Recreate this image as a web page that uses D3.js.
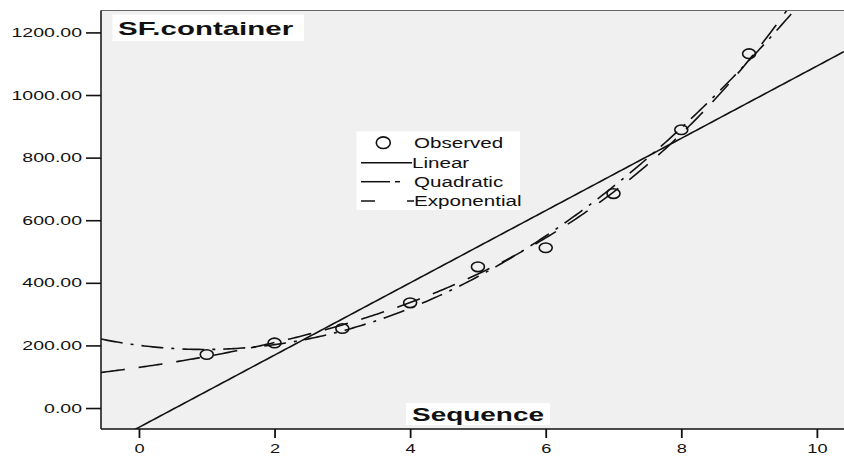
<!DOCTYPE html>
<html>
<head>
<meta charset="utf-8">
<script src="https://cdn.jsdelivr.net/npm/d3@7"></script>
<style>
  html, body { margin: 0; padding: 0; background: #ffffff; }
  svg { display: block; font-family: "Liberation Sans", Arial, sans-serif; }
</style>
</head>
<body>
<svg id="chart" width="844" height="457"></svg>
<script>
// Observed SF.container values by sequence step
const sequence = [1, 2, 3, 4, 5, 6, 7, 8, 9];
const observed = [171, 208, 254, 336, 451, 512, 685, 889, 1132];

// Axis ticks
const xTicks = [0, 2, 4, 6, 8, 10];
const yTicks = [0, 200, 400, 600, 800, 1000, 1200];

// Legend entries
const legendLabels = ["Observed", "Linear", "Quadratic", "Exponential"];

const chartTitle = "SF.container";
const xTitle = "Sequence";

// ---- least-squares curve fits (linear, quadratic, exponential via log) ----
function linFit(xs, ys) {
  const n = xs.length, mx = d3.mean(xs), my = d3.mean(ys);
  let sxy = 0, sxx = 0;
  for (let i = 0; i < n; i++) { sxy += (xs[i] - mx) * (ys[i] - my); sxx += (xs[i] - mx) ** 2; }
  const b = sxy / sxx;
  return { a: my - b * mx, b };
}
function quadFit(xs, ys) {
  // solve normal equations for y = c0 + c1 x + c2 x^2
  const S = k => d3.sum(xs, x => x ** k);
  const T = k => d3.sum(xs.map((x, i) => ys[i] * x ** k));
  const M = [[S(0), S(1), S(2), T(0)], [S(1), S(2), S(3), T(1)], [S(2), S(3), S(4), T(2)]];
  for (let i = 0; i < 3; i++) {
    for (let j = i + 1; j < 3; j++) {
      const f = M[j][i] / M[i][i];
      for (let k = i; k < 4; k++) M[j][k] -= f * M[i][k];
    }
  }
  const c = [0, 0, 0];
  for (let i = 2; i >= 0; i--) {
    let s = M[i][3];
    for (let k = i + 1; k < 3; k++) s -= M[i][k] * c[k];
    c[i] = s / M[i][i];
  }
  return c;
}
const lin = linFit(sequence, observed);
const quad = quadFit(sequence, observed);
const expo = linFit(sequence, observed.map(Math.log));

const models = {
  Linear: t => lin.a + lin.b * t,
  Quadratic: t => quad[0] + quad[1] * t + quad[2] * t * t,
  Exponential: t => Math.exp(expo.a + expo.b * t)
};

// ---- layout ----
const svg = d3.select("#chart");
const plot = { left: 101, right: 844, top: 10.5, bottom: 429 };
const stretchK = 1.5;

const x = d3.scaleLinear().domain([-0.56, 10.4]).range([plot.left, plot.right]);
const y = d3.scaleLinear().domain([-67, 1270]).range([plot.bottom, plot.top]);

// widen glyphs horizontally
function stretch(sel, k) {
  sel.each(function () {
    const w = this.getComputedTextLength();
    this.setAttribute("textLength", w * k);
    this.setAttribute("lengthAdjust", "spacingAndGlyphs");
  });
}

// plot background
svg.append("rect")
  .attr("x", plot.left).attr("y", plot.top)
  .attr("width", plot.right - plot.left).attr("height", plot.bottom - plot.top)
  .attr("fill", "#f0f0f0");

svg.append("clipPath").attr("id", "plotClip")
  .append("rect")
  .attr("x", plot.left).attr("y", plot.top)
  .attr("width", plot.right - plot.left).attr("height", plot.bottom - plot.top);

// fitted curves
const styles = {
  Linear: null,
  Quadratic: "22 8 3 8",
  Exponential: "24 14"
};
const tGrid = d3.range(-0.56, 10.41, 0.04);
const line = d3.line().x(d => x(d[0])).y(d => y(d[1]));
const curves = svg.append("g").attr("clip-path", "url(#plotClip)");
Object.keys(models).forEach(name => {
  curves.append("path")
    .datum(tGrid.map(t => [t, models[name](t)]))
    .attr("d", line)
    .attr("fill", "none")
    .attr("stroke", "#111")
    .attr("stroke-width", 1.6)
    .attr("stroke-dasharray", styles[name]);
});

// observed points
svg.append("g").selectAll("ellipse")
  .data(sequence.map((t, i) => [t, observed[i]]))
  .join("ellipse")
  .attr("cx", d => x(d[0])).attr("cy", d => y(d[1]))
  .attr("rx", 6.5).attr("ry", 4.8)
  .attr("fill", "none").attr("stroke", "#111").attr("stroke-width", 1.6);

// frame: top border, left and bottom axis lines
svg.append("line").attr("x1", plot.left).attr("x2", plot.right)
  .attr("y1", plot.top).attr("y2", plot.top)
  .attr("stroke", "#666").attr("stroke-width", 1);

// y axis
const yAxis = svg.append("g")
  .attr("transform", `translate(${plot.left},0)`)
  .call(d3.axisLeft(y).tickValues(yTicks).tickSize(15).tickPadding(4).tickFormat(d3.format(".2f")));
yAxis.select(".domain").remove();
yAxis.selectAll(".tick line").attr("stroke", "#111").attr("stroke-width", 1.6);
yAxis.selectAll(".tick text").attr("font-size", 13).attr("fill", "#111")
  .attr("font-family", "Liberation Sans, Arial, sans-serif");
stretch(yAxis.selectAll(".tick text"), stretchK);

// x axis
const xAxis = svg.append("g")
  .attr("transform", `translate(0,${plot.bottom})`)
  .call(d3.axisBottom(x).tickValues(xTicks).tickSize(9).tickPadding(6).tickFormat(d3.format("d")));
xAxis.select(".domain").remove();
xAxis.selectAll(".tick line").attr("stroke", "#111").attr("stroke-width", 1.8);
xAxis.selectAll(".tick text").attr("font-size", 13).attr("fill", "#111")
  .attr("font-family", "Liberation Sans, Arial, sans-serif");
stretch(xAxis.selectAll(".tick text"), 1.4);

svg.append("line").attr("x1", plot.left).attr("x2", plot.left)
  .attr("y1", plot.top).attr("y2", plot.bottom)
  .attr("stroke", "#111").attr("stroke-width", 1.5);
svg.append("line").attr("x1", plot.left).attr("x2", plot.right)
  .attr("y1", plot.bottom).attr("y2", plot.bottom)
  .attr("stroke", "#111").attr("stroke-width", 1.5);

// chart title with white box
svg.append("rect").attr("x", 112.5).attr("y", 14.5).attr("width", 191.5).attr("height", 26.5).attr("fill", "#fff");
const title = svg.append("text").attr("x", 118).attr("y", 34.5)
  .attr("font-size", 19).attr("font-weight", "bold").attr("fill", "#111").text(chartTitle);
stretch(title, 1.55);

// x axis title with white box
svg.append("rect").attr("x", 406).attr("y", 403).attr("width", 144).attr("height", 22).attr("fill", "#fff");
const xt = svg.append("text").attr("x", 478).attr("y", 421).attr("text-anchor", "middle")
  .attr("font-size", 19).attr("font-weight", "bold").attr("fill", "#111").text(xTitle);
stretch(xt, 1.47);

// legend
const lg = svg.append("g");
lg.append("rect").attr("x", 356.5).attr("y", 131.5).attr("width", 163.5).attr("height", 78.5).attr("fill", "#fff");
const rowY = [142.7, 162.7, 181.7, 201];
lg.append("ellipse").attr("cx", 383.3).attr("cy", rowY[0]).attr("rx", 7).attr("ry", 5.8)
  .attr("fill", "none").attr("stroke", "#111").attr("stroke-width", 1.6);
lg.append("line").attr("x1", 361).attr("x2", 412).attr("y1", rowY[1]).attr("y2", rowY[1])
  .attr("stroke", "#111").attr("stroke-width", 1.5);
lg.append("line").attr("x1", 361).attr("x2", 390).attr("y1", rowY[2]).attr("y2", rowY[2])
  .attr("stroke", "#111").attr("stroke-width", 1.5);
lg.append("line").attr("x1", 395).attr("x2", 400).attr("y1", rowY[2]).attr("y2", rowY[2])
  .attr("stroke", "#111").attr("stroke-width", 1.5);
lg.append("line").attr("x1", 361).attr("x2", 375).attr("y1", rowY[3]).attr("y2", rowY[3])
  .attr("stroke", "#111").attr("stroke-width", 1.5);
lg.append("line").attr("x1", 407).attr("x2", 414).attr("y1", rowY[3]).attr("y2", rowY[3])
  .attr("stroke", "#111").attr("stroke-width", 1.5);
const legX = [414, 412, 414, 414];
const lt = lg.selectAll("text.leg").data(legendLabels).join("text")
  .attr("class", "leg")
  .attr("x", (d, i) => legX[i]).attr("y", (d, i) => rowY[i] + 5)
  .attr("font-size", 14).attr("fill", "#111").text(d => d);
stretch(lt, 1.47);
</script>
</body>
</html>
